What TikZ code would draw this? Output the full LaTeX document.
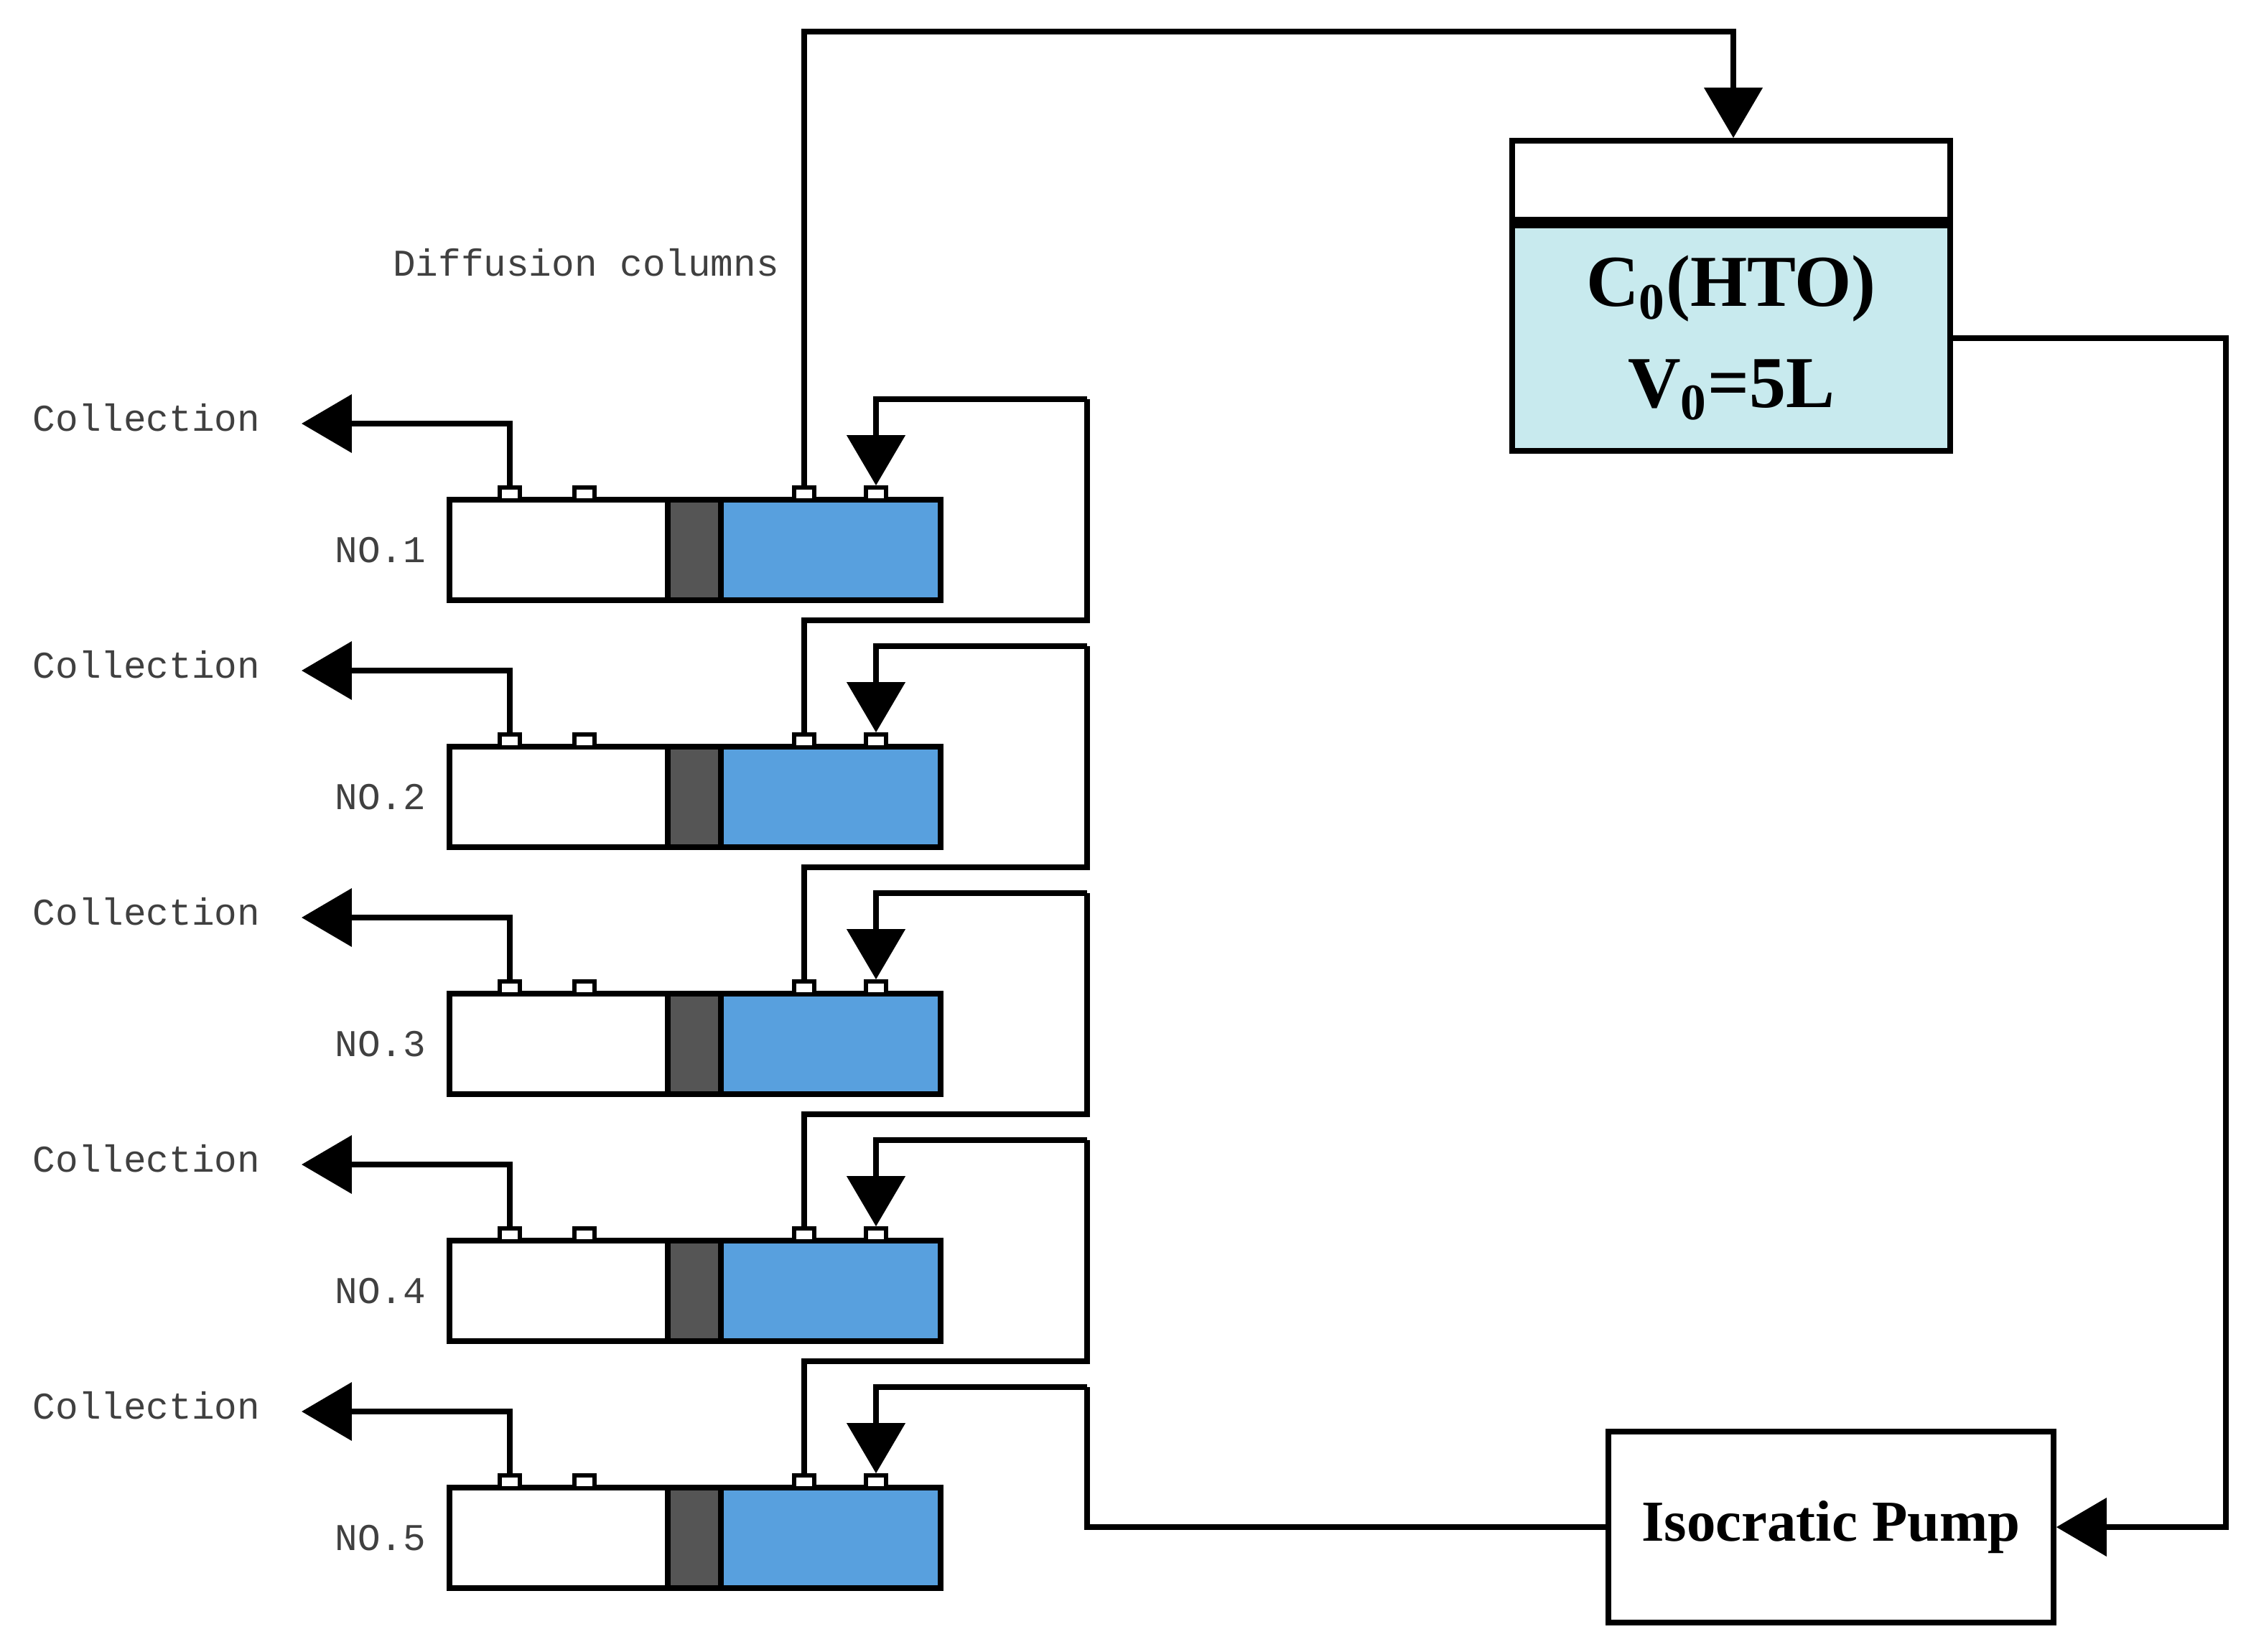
\documentclass[tikz,border=0pt]{standalone}
\usepackage{fontspec}
\setmainfont{Liberation Serif}
\newfontfamily\monofont{Liberation Mono}
\usetikzlibrary{arrows.meta,positioning}
\definecolor{colblue}{RGB}{88,160,222}
\definecolor{colgray}{RGB}{85,85,85}
\definecolor{tankblue}{RGB}{200,234,238}

\begin{document}
\begin{tikzpicture}[
  x=0.02cm, y=-0.02cm,
  pipe/.style={draw, line width=2.2pt},
  flow/.style={pipe, -{Triangle[length=0.7cm,width=0.8cm]}},
  port/.style={draw, fill=white, line width=1.6pt, inner sep=0pt,
    minimum width=0.28cm, minimum height=0.18cm},
  lbl/.style={font=\monofont\fontsize{15}{18}\selectfont, text=black!75},
  big/.style={font=\bfseries\fontsize{29}{40}\selectfont, align=center},
]
\useasboundingbox (0,0) rectangle (1564,1150);

% diffusion columns
\foreach \i in {1,...,5} {
  \pgfmathsetmacro\t{348+172*(\i-1)}
  \fill[colblue] (502,\t) rectangle (655,\t+70);
  \fill[colgray] (465,\t) rectangle (502,\t+70);
  \draw[line width=2.2pt] (313,\t) rectangle (655,\t+70);
  \draw[line width=2.2pt] (465,\t) -- (465,\t+70) (502,\t) -- (502,\t+70);
  \node[port] (p\i a) at (355,\t-4) {};
  \node[port] (p\i b) at (407,\t-4) {};
  \node[port] (p\i c) at (560,\t-4) {};
  \node[port] (p\i d) at (610,\t-4) {};
  \node[lbl] (no\i) at (265,\t+35) {NO.\i};
  \node[lbl] (coll\i) at (102,\t-57) {Collection};
  \coordinate (c\i) at (210,\t-53);
  \draw[flow] (p\i a.north) |- (c\i);
  \coordinate (r\i) at (757,\t-70);
  \coordinate (k\i) at (757,\t-88);
  \draw[flow] (r\i) -| (p\i d.north);
}
\foreach \i [evaluate=\i as \j using int(\i-1)] in {2,...,5}
  \draw[pipe] (p\i c.north) |- (k\i) -- (r\j);

\node[lbl] (difflbl) at (408,183) {Diffusion columns};

% tank
\node[draw, line width=2.2pt, minimum width=6.1cm, minimum height=1.1cm]
  (tanktop) at (1205.5,125.5) {};
\node[draw, line width=2.2pt, fill=tankblue, minimum width=6.1cm,
  minimum height=3.14cm, below=0pt of tanktop, big]
  (tank) {C\textsubscript{0}(HTO)\\V\textsubscript{0}=5L};

% pump
\node[draw, line width=2.2pt, minimum width=6.2cm, minimum height=2.66cm,
  font=\bfseries\fontsize{23}{26}\selectfont] (pump) at (1275,1063.5) {Isocratic Pump};

% connections
\coordinate (topL) at (560,22);
\coordinate (topR) at (1207,22);
\draw[flow] (p1c.north) -- (topL) -- (topR) -- (tanktop.north -| topR);
\coordinate (outR) at (1550,0);
\draw[flow] (tank.east) -- (tank.east -| outR) |- (pump.east);
\coordinate (pin) at (757,1063.5);
\draw[pipe] (pump.west) -- (pin) -- (r5);
\end{tikzpicture}
\end{document}
